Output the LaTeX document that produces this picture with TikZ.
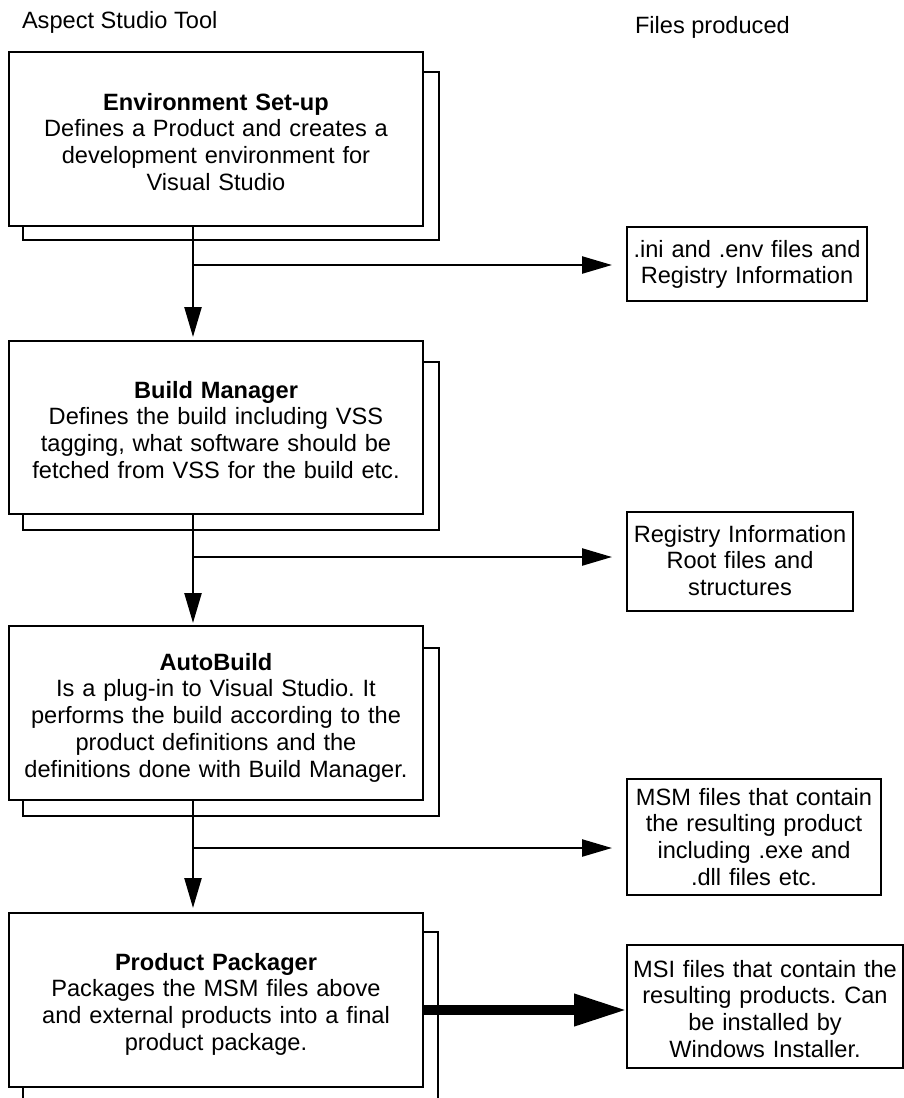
\documentclass[tikz,border=0pt]{standalone}
\usepackage{fontspec}
\setmainfont{Liberation Sans}
\usetikzlibrary{arrows.meta}
\frenchspacing
\tikzset{
  every node/.style={inner sep=0pt, outer sep=0pt, font=\fontsize{23.6}{26.8}\selectfont\frenchspacing},
  frontbox/.style={draw, line width=2.5pt, fill=white, align=center, anchor=base, text width=414pt},
  backbox/.style={draw, line width=2.5pt, fill=white, minimum width=416pt},
  filebox/.style={draw, line width=2.5pt, fill=white, align=center, anchor=base},
  heading/.style={anchor=base west},
  conn/.style={line width=2.4pt},
  arr/.style={line width=2.4pt, -{Triangle[length=30pt,width=17pt]}},
  bigarr/.style={line width=10pt, -{Triangle[length=53pt,width=30pt]}}
}
\begin{document}
\begin{tikzpicture}[x=1pt,y=-1pt]
\useasboundingbox[fill=white] (0,0) rectangle (904,1098);

% headings
\node[heading] (htool) at (22,28) {Aspect Studio Tool};
\node[heading] (hfiles) at (635,33) {Files produced};

% back boxes
\node[backbox, minimum height=168pt] (envb) at (231,156) {};
\node[backbox, minimum height=168pt] (buildb) at (231,446) {};
\node[backbox, minimum height=168pt] (autob) at (231,732) {};
\node[backbox, minimum width=415pt, minimum height=180pt] (packb) at (230.5,1022) {};

% front boxes
\node[frontbox, text height=58pt, text depth=116pt] (env) at (216,110)
  {\textbf{Environment Set-up}\\Defines a Product and creates a\\development environment for\\Visual Studio};
\node[frontbox, text height=57pt, text depth=116pt] (build) at (216,398)
  {\textbf{Build Manager}\\Defines the build including VSS\\tagging, what software should be\\fetched from VSS for the build etc.};
\node[frontbox, text height=44pt, text depth=130pt] (auto) at (216,670)
  {\textbf{AutoBuild}\\Is a plug-in to Visual Studio. It\\performs the build according to the\\product definitions and the\\definitions done with Build Manager.};
\node[frontbox, text height=57pt, text depth=117pt] (pack) at (216,970)
  {\textbf{Product Packager}\\Packages the MSM files above\\and external products into a final\\product package.};

% file boxes
\node[filebox, text width=240pt, text height=30pt, text depth=44pt] (ini) at (747,257)
  {.ini and .env files and\\Registry Information};
\node[filebox, text width=226pt, text height=30pt, text depth=69pt] (reg) at (740,542)
  {Registry Information\\Root files and\\structures};
\node[filebox, text width=254pt, text height=26pt, text depth=90pt] (msm) at (754,805)
  {MSM files that contain\\the resulting product\\including .exe and\\.dll files etc.};
\node[filebox, text width=276pt, text height=32pt, text depth=91pt] (msi) at (765,977)
  {MSI files that contain the\\resulting products. Can\\be installed by\\Windows Installer.};

% branch points
\coordinate (b1) at (193,265);
\coordinate (b2) at (193,557);
\coordinate (b3) at (193,848);

% connectors
\draw[arr, shorten >=4pt] (env.south -| b1) -- (build.north -| b1);
\draw[arr, shorten >=3pt] (build.south -| b2) -- (auto.north -| b2);
\draw[arr, shorten >=5pt] (auto.south -| b3) -- (pack.north -| b3);
\draw[arr, shorten >=15pt] (b1) -- (b1 -| ini.west);
\draw[arr, shorten >=15pt] (b2) -- (b2 -| reg.west);
\draw[arr, shorten >=15pt] (b3) -- (b3 -| msm.west);
\draw[bigarr] (pack.east |- 0,1010) -- (msi.west |- 0,1010);
\end{tikzpicture}
\end{document}
